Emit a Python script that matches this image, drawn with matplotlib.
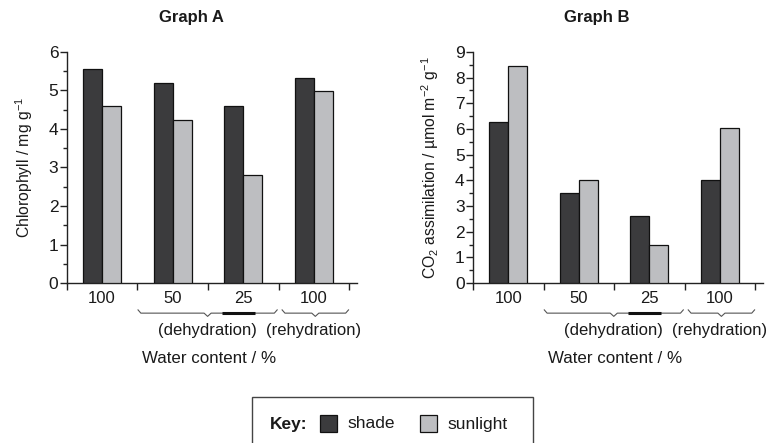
import matplotlib
matplotlib.use("Agg")
import matplotlib.pyplot as plt
from matplotlib.patches import Rectangle
from matplotlib.ticker import MultipleLocator
import numpy as np

plt.rcParams['font.family'] = ['Liberation Sans', 'DejaVu Sans']
plt.rcParams['mathtext.fontset'] = 'custom'
plt.rcParams['mathtext.rm'] = 'Liberation Sans'
plt.rcParams['mathtext.it'] = 'Liberation Sans'
plt.rcParams['mathtext.default'] = 'regular'

# chlorophyll and CO2 uptake at each stage of drying / rewetting
groups = ['100', '50', '25', '100']
chlorophyll_shade = [5.55, 5.2, 4.6, 5.33]
chlorophyll_sun = [4.6, 4.22, 2.8, 4.98]
co2_shade = [6.27, 3.5, 2.6, 4.0]
co2_sun = [8.45, 4.0, 1.5, 6.02]

SHADE = '#3b3b3d'
SUN = '#bdbec1'
TXT = '#1a1a1a'

fig = plt.figure(figsize=(7.72, 4.43), dpi=100)


def brace(ax, x0, x1, y, h=0.014):
    tr = ax.get_xaxis_transform()
    xm = (x0 + x1) / 2
    xs = [x0, x0 + 0.04, xm - 0.05, xm, xm + 0.05, x1 - 0.04, x1]
    ys = [y + h, y, y, y - h, y, y, y + h]
    ax.plot(xs, ys, color='#555555', lw=0.8, transform=tr, clip_on=False)


def panel(rect, shade, sun, ymax, title, ylabel):
    ax = fig.add_axes(rect)
    x = np.arange(len(groups)) + 0.5
    w = 0.27
    ax.bar(x - w / 2, shade, w, color=SHADE, edgecolor='#111111', lw=0.9, zorder=3)
    ax.bar(x + w / 2, sun, w, color=SUN, edgecolor='#111111', lw=0.9, zorder=3)
    ax.set_xlim(0, 4.11)
    ax.set_ylim(0, ymax)
    for s in ['top', 'right']:
        ax.spines[s].set_visible(False)
    for s in ['left', 'bottom']:
        ax.spines[s].set_linewidth(1.0)
        ax.spines[s].set_color('#222222')
    ax.set_xticks([0, 1, 2, 3, 4])
    ax.set_xticklabels([])
    ax.set_xticks(x, groups, minor=True)
    ax.tick_params(axis='x', which='major', length=5, width=1, color='#222222')
    ax.tick_params(axis='x', which='minor', length=0, pad=6, labelsize=12,
                   labelcolor=TXT)
    ax.yaxis.set_major_locator(MultipleLocator(1))
    ax.yaxis.set_minor_locator(MultipleLocator(0.5))
    ax.tick_params(axis='y', which='major', length=5, width=1, pad=1,
                   labelsize=12.5, labelcolor=TXT, color='#222222')
    ax.tick_params(axis='y', which='minor', length=3, width=1, color='#222222')
    ax.text(1.76, 1.147, title, transform=ax.get_xaxis_transform(),
            ha='center', va='center', fontsize=12, fontweight='bold', color=TXT)
    ax.set_ylabel(ylabel, fontsize=11.3, color=TXT, labelpad=10)

    brace(ax, 1.01, 2.98, -0.13)
    brace(ax, 3.05, 3.99, -0.13)
    tr = ax.get_xaxis_transform()
    ax.plot([2.2, 2.66], [-0.13, -0.13], color='#111111', lw=2.2,
            transform=tr, clip_on=False, solid_capstyle='butt')
    ax.text(1.99, -0.205, '(dehydration)', transform=tr, ha='center',
            va='center', fontsize=12, color=TXT)
    ax.text(3.5, -0.205, '(rehydration)', transform=tr, ha='center',
            va='center', fontsize=12, color=TXT)
    ax.text(2.02, -0.325, 'Water content / %', transform=tr, ha='center',
            va='center', fontsize=12.2, color=TXT)
    return ax


panel([0.0864, 0.361, 0.376, 0.522], chlorophyll_shade, chlorophyll_sun, 6,
      'Graph A', 'Chlorophyll / mg g$^{-1}$')
panel([0.6127, 0.361, 0.3757, 0.522], co2_shade, co2_sun, 9,
      'Graph B', 'CO$_2$ assimilation / µmol m$^{-2}$ g$^{-1}$')

# key box at the bottom
W, H = 772, 443
fig.add_artist(Rectangle((252 / W, -0.02), 281 / W, 0.02 + 1 - 397 / H,
                         transform=fig.transFigure, fill=False,
                         edgecolor='#444444', lw=1.0))
ky = 1 - 424 / H
fig.text(270 / W, ky, 'Key:', fontsize=12.5, fontweight='bold', color=TXT,
         va='center')
for x0, col, lab in [(320, SHADE, 'shade'), (420, SUN, 'sunlight')]:
    fig.add_artist(Rectangle((x0 / W, ky - 8 / H), 17 / W, 17 / H,
                             transform=fig.transFigure, facecolor=col,
                             edgecolor='#111111', lw=0.9))
    fig.text((x0 + 27) / W, ky, lab, fontsize=12.5, color=TXT, va='center')

fig.savefig('out.png', dpi=100)
